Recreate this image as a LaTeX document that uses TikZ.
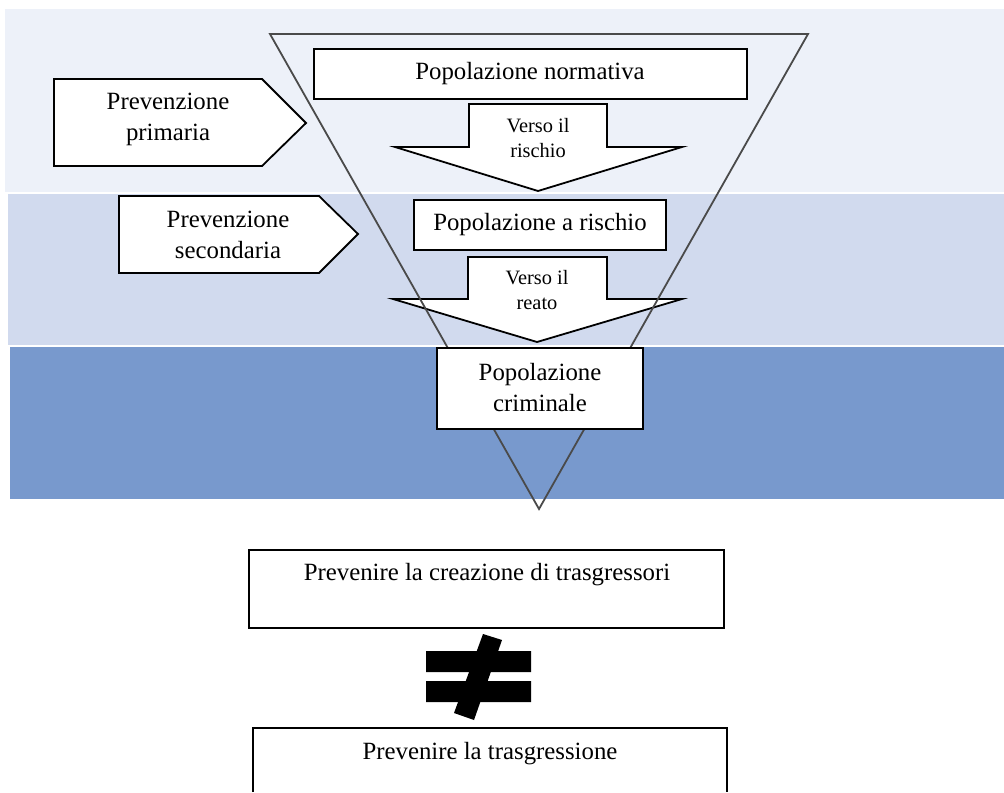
\documentclass[tikz,border=0pt]{standalone}
\usepackage{fontspec}
\setmainfont{Liberation Serif}
\definecolor{bandtop}{HTML}{EDF1F9}
\definecolor{bandmid}{HTML}{D1DAEE}
\definecolor{bandlow}{HTML}{7899CD}
\definecolor{funnelgray}{HTML}{4A4A4A}
\tikzset{
	box/.style={draw,fill=white,line width=0.9pt},
	txt/.style={font=\fontsize{12.4}{15.5}\selectfont,align=center,inner sep=0pt},
	smalltxt/.style={font=\fontsize{10.2}{12.2}\selectfont,align=center,inner sep=0pt}
}
\begin{document}
\begin{tikzpicture}[x=0.5pt,y=-0.5pt]
		\useasboundingbox (0,0) rectangle (1004,792);
%  		\draw[gray!40] (0,0) grid[step=100] (1004,792);
		% bands
		\fill[bandtop] (5,9) rectangle (1004,192);
		\fill[bandmid] (8,194) rectangle (1004,345);
		\fill[bandlow] (10,347) rectangle (1004,499);

		% side arrows
		\draw[box] (54,79) -- (262,79) -- (306,123) -- (262,166) -- (54,166) -- cycle;
		\node[txt] (primaria) at (168,119) {Prevenzione\\primaria};
		\draw[box] (119,196) -- (319,196) -- (358,234) -- (319,273) -- (119,273) -- cycle;
		\node[txt] (secondaria) at (228,235) {Prevenzione\\secondaria};

		% down arrows
		\draw[box] (469,104) -- (607,104) -- (607,147) -- (682,147)
			-- (538,191) -- (395,147) -- (469,147) -- cycle;
		\node[smalltxt] (rischio) at (538,138) {Verso il\\rischio};
		\draw[box] (468,257) -- (607,257) -- (607,299) -- (682,299)
			-- (537,342) -- (393,299) -- (468,299) -- cycle;
		\node[smalltxt] (reato) at (537,290) {Verso il\\reato};

		% funnel
		\draw[funnelgray,line width=0.9pt] (270,34) -- (808,34) -- (539,509) -- cycle;

		% populations
		\draw[box] (314,49) rectangle (747,99);
		\node[txt] (normativa) at (530,74) {Popolazione normativa};
		\draw[box] (414,200) rectangle (666,250);
		\node[txt] (arischio) at (540,225) {Popolazione a rischio};
		\draw[box] (437,348) rectangle (643,429);
		\node[txt] (criminale) at (540,388) {Popolazione\\criminale};

		% bottom
		\draw[box] (249,550) rectangle (724,628);
		\node[txt] (creazione) at (487,575) {Prevenire la creazione di trasgressori};
		\fill (426,651) rectangle (531,672)
			(426,681) rectangle (531,702);
		\fill (483,634) -- (502,640) -- (474,720) -- (454,713) -- cycle;
		\draw[line width=0.9pt] (253,792) -- (253,728) -- (727,728) -- (727,792);
		\node[txt] (trasgressione) at (490,754) {Prevenire la trasgressione};
	\end{tikzpicture}
\end{document}
